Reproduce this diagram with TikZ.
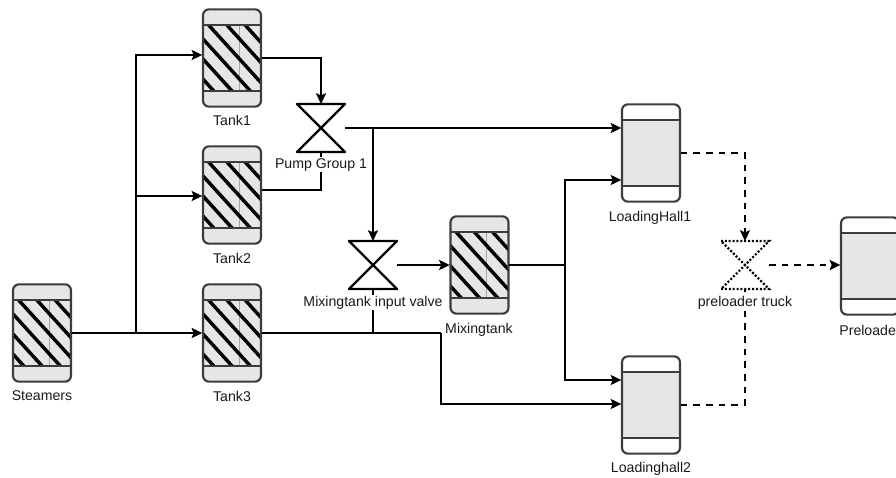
\documentclass[tikz,border=0pt]{standalone}
\usepackage{fontspec}
\setmainfont{Liberation Sans}
\usetikzlibrary{arrows.meta}
\definecolor{tankfill}{HTML}{E6E6E6}
\definecolor{edge}{HTML}{3C3C3C}
\tikzset{
  vesselbase/.style={draw=edge,line width=1.6pt,rounded corners=4.5pt,minimum width=43.5pt,minimum height=73pt,inner sep=0pt,outer sep=0.5pt},
  hatched/.style={vesselbase,fill=tankfill,path picture={
    \begin{scope}
      \clip ([yshift=24.8pt]path picture bounding box.west) rectangle ([yshift=-24.8pt]path picture bounding box.east);
      \draw[gray!70,line width=0.6pt] ([xshift=5.5pt]path picture bounding box.north) -- ([xshift=5.5pt]path picture bounding box.south);
      \foreach \s in {-8,...,6}{
        \draw[black,line width=2.6pt] ([xshift=\s*13.7pt-6.5pt]path picture bounding box.north west) -- ++(70pt,-77pt);
      }
    \end{scope}
    \draw[edge,line width=1.6pt] ([yshift=24.8pt]path picture bounding box.west) -- ([yshift=24.8pt]path picture bounding box.east);
    \draw[edge,line width=1.6pt] ([yshift=-24.8pt]path picture bounding box.west) -- ([yshift=-24.8pt]path picture bounding box.east);
  }},
  hall/.style={vesselbase,fill=white,path picture={
    \fill[tankfill] ([yshift=24.8pt]path picture bounding box.west) rectangle ([yshift=-24.8pt]path picture bounding box.east);
    \draw[edge,line width=1.6pt] ([yshift=24.8pt]path picture bounding box.west) -- ([yshift=24.8pt]path picture bounding box.east);
    \draw[edge,line width=1.6pt] ([yshift=-24.8pt]path picture bounding box.west) -- ([yshift=-24.8pt]path picture bounding box.east);
  }},
  valvebox/.style={minimum width=36pt,minimum height=36pt,inner sep=0pt,outer sep=0pt},
  valveline/.style={draw=black,line width=1.8pt,line join=round},
  valvedot/.style={draw=black,line width=1.6pt,dash pattern=on 1.5pt off 1.4pt},
  lbl/.style={anchor=base,font=\fontsize{10.6pt}{12pt}\selectfont,inner sep=0.6pt,text=black!90},
  lblw/.style={lbl,fill=white},
  flow/.style={draw=black,line width=1.8pt,line join=miter},
  flowa/.style={flow,-{Stealth[length=8pt,width=7.5pt,inset=1.5pt]}},
  dflow/.style={flow,dash pattern=on 5pt off 4.5pt},
  dflowa/.style={dflow,-{Stealth[length=8pt,width=7.5pt,inset=1.5pt]}},
}
\begin{document}
\begin{tikzpicture}[x=0.75pt,y=-0.75pt]
\useasboundingbox (0,0) rectangle (896,478);
\clip (0,0) rectangle (896,478);

% vessels
\node[hatched] (steamers) at (42,333) {};
\node[hatched] (tank1) at (232,58) {};
\node[hatched] (tank2) at (232,195) {};
\node[hatched] (tank3) at (232,333) {};
\node[hatched] (mix) at (479.5,265) {};
\node[hall] (lh1) at (651,153) {};
\node[hall] (lh2) at (651,405) {};
\node[hall] (pre) at (870,266) {};

% valves
\node[valvebox] (pump) at (321,128) {};
\node[valvebox] (mvalve) at (373,265) {};
\node[valvebox] (truck) at (745,265) {};

% free junctions and offset ends
\coordinate (j0) at (136,333);
\coordinate (t1in) at (tank1.west |- 0,55);
\coordinate (t2in) at (tank2.west |- 0,196);
\coordinate (t2out) at (tank2.east |- 0,190);
\coordinate (j1) at (373,128);
\coordinate (j2) at (373,333);
\coordinate (j3) at (441,333);
\coordinate (j4) at (565,265);
\coordinate (h1a) at (lh1.west |- 0,128);
\coordinate (h1b) at (lh1.west |- 0,180);
\coordinate (h2a) at (lh2.west |- 0,380);
\coordinate (h2b) at (lh2.west |- 0,404);

% solid connectors
\draw[flowa] (steamers.east) -- (tank3.west);
\draw[flowa] (j0) -- (j0 |- t1in) -- (t1in);
\draw[flowa] (j0 |- t2in) -- (t2in);
\draw[flowa] (tank1.east) -| (pump.north);
\draw[flow] (t2out) -| (pump.south);
\draw[flowa] (pump.east) -- (h1a);
\draw[flowa] (j1) -- (mvalve.north);
\draw[flowa] (mvalve.east) -- (mix.west);
\draw[flow] (tank3.east) -- (j3);
\draw[flowa] (j3) |- (h2b);
\draw[flow] (j2) -- (mvalve.south);
\draw[flow] (mix.east) -- (j4);
\draw[flowa] (j4) |- (h1b);
\draw[flowa] (j4) |- (h2a);

% dashed connectors
\draw[dflowa] (lh1.east) -| (truck.north);
\draw[dflow] (lh2.east) -| (truck.south);
\draw[dflowa] (truck.east) -- (pre.west |- truck.east);

% valve symbols
\draw[valveline] (pump.north west) -- (pump.north east) -- (pump.south west) -- (pump.south east) -- cycle;
\draw[valveline] (mvalve.north west) -- (mvalve.north east) -- (mvalve.south west) -- (mvalve.south east) -- cycle;
\draw[valvedot] (truck.north west) -- (truck.north east) -- (truck.south west) -- (truck.south east) -- cycle;

% labels
\node[lbl] (l1) at (42,400) {Steamers};
\node[lbl] (l2) at (232,126) {Tank1};
\node[lbl] (l3) at (232,263) {Tank2};
\node[lbl] (l4) at (232,401) {Tank3};
\node[lblw] (l5) at (321,168) {Pump Group 1};
\node[lblw] (l6) at (373,306) {Mixingtank input valve};
\node[lbl] (l7) at (479,333) {Mixingtank};
\node[lbl] (l8) at (650,221) {LoadingHall1};
\node[lbl] (l9) at (651,472) {Loadinghall2};
\node[lblw] (l10) at (745,306) {preloader truck};
\node[lbl] (l11) at (870,335) {Preloader};
\end{tikzpicture}
\end{document}
